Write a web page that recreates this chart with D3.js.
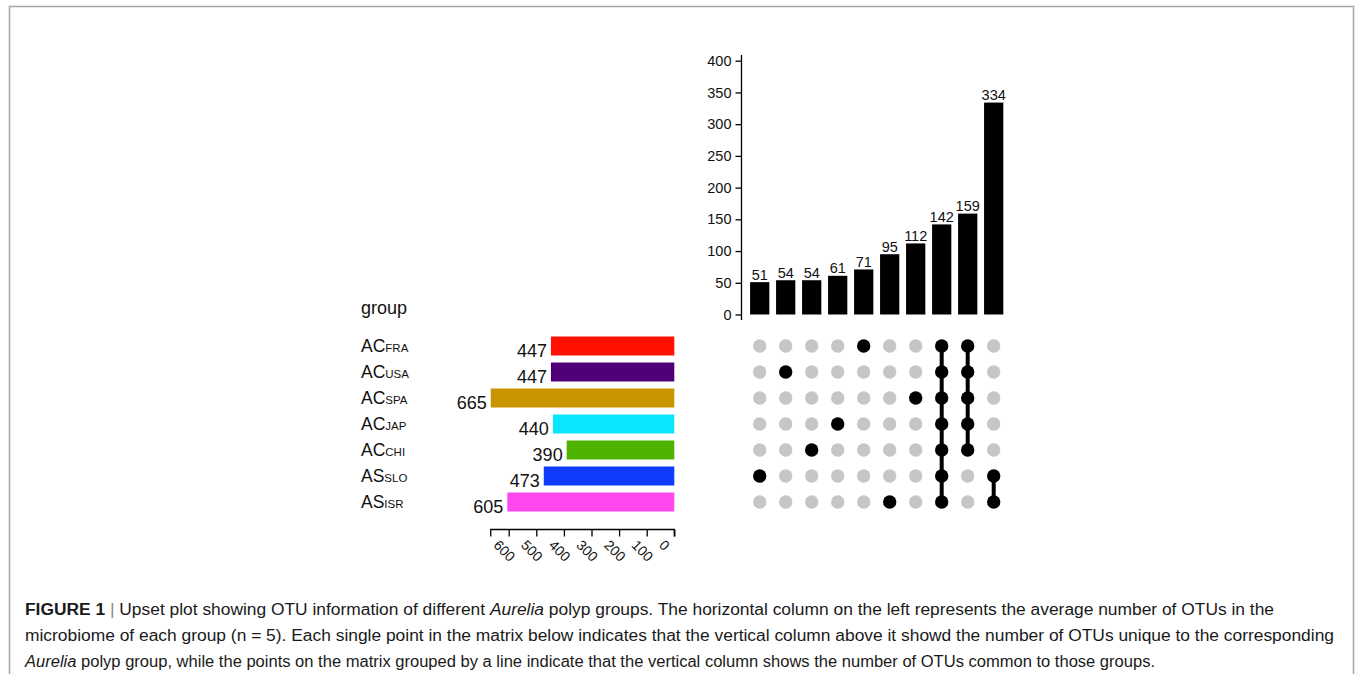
<!DOCTYPE html>
<html>
<head>
<meta charset="utf-8">
<script src="https://cdn.jsdelivr.net/npm/d3@7"></script>
<style>
  html, body { margin: 0; padding: 0; background: #fff; }
  svg { display: block; font-family: "Liberation Sans", Arial, Helvetica, sans-serif; }
</style>
</head>
<body>
<svg id="chart" width="1355" height="674"></svg>
<script>
// ---------------- data ----------------
const groupPrefix = ["AC", "AC", "AC", "AC", "AC", "AS", "AS"];
const groupNames  = ["FRA", "USA", "SPA", "JAP", "CHI", "SLO", "ISR"];
const setSizes    = [447, 447, 665, 440, 390, 473, 605];
const setColors   = ["#ff1000", "#4f0078", "#c99400", "#0ae6ff", "#4db200", "#0f3cff", "#ff46ef"];

const intersectionSizes = [51, 54, 54, 61, 71, 95, 112, 142, 159, 334];
const intersectionMembers = [
  ["SLO"], ["USA"], ["CHI"], ["JAP"], ["FRA"], ["ISR"], ["SPA"],
  ["FRA", "USA", "SPA", "JAP", "CHI", "SLO", "ISR"],
  ["FRA", "USA", "SPA", "JAP", "CHI"],
  ["SLO", "ISR"]
];
const yTicks = [0, 50, 100, 150, 200, 250, 300, 350, 400];
const setTicks = [0, 100, 200, 300, 400, 500, 600];

const captionLines = [
  [{t: "FIGURE 1", b: true}, {t: " | ", sep: true}, {t: "Upset plot showing OTU information of different "}, {t: "Aurelia", i: true}, {t: " polyp groups. The horizontal column on the left represents the average number of OTUs in the"}],
  [{t: "microbiome of each group (n = 5). Each single point in the matrix below indicates that the vertical column above it showd the number of OTUs unique to the corresponding"}],
  [{t: "Aurelia", i: true}, {t: " polyp group, while the points on the matrix grouped by a line indicate that the vertical column shows the number of OTUs common to those groups."}]
];
const captionWidths = [1249, 1309, 1130];

// ---------------- drawing ----------------
const svg = d3.select("#chart");

// frame
svg.append("path")
  .attr("d", "M9.5,680 L9.5,6.5 L1353.5,6.5 L1353.5,680")
  .attr("fill", "none").attr("stroke", "#a6a6a6").attr("stroke-width", 1.5);

const cols = d3.range(intersectionSizes.length);
const x = d3.scaleBand().domain(cols).range([746.7, 1006.7]).paddingInner(0.26).paddingOuter(0.13);
const y = d3.scaleLinear().domain([0, 400]).range([314.5, 60.7]);
const rows = d3.scaleBand().domain(groupNames).range([333, 515]);
const setX = d3.scaleLinear().domain([0, 100]).range([674.3, 646.7]);

// --- top intersection bars
const yAxis = d3.axisLeft(y).tickValues(yTicks).tickSize(6).tickPadding(4).tickSizeOuter(0);
const ya = svg.append("g").attr("transform", "translate(741.5,0)").call(yAxis);
ya.select(".domain").attr("d", "M0,55 V320").attr("stroke-width", 1.3);
ya.selectAll(".tick line").attr("stroke-width", 1.3);
ya.selectAll("text").attr("font-size", 14.5).attr("fill", "#111").attr("font-family", "Liberation Sans, Arial, sans-serif");

svg.append("g").selectAll("rect").data(intersectionSizes).join("rect")
  .attr("x", (d, i) => x(i)).attr("width", x.bandwidth())
  .attr("y", d => y(d)).attr("height", d => y(0) - y(d))
  .attr("fill", "#000");

svg.append("g").selectAll("text").data(intersectionSizes).join("text")
  .attr("x", (d, i) => x(i) + x.bandwidth() / 2)
  .attr("y", d => y(d) - 2.5)
  .attr("text-anchor", "middle").attr("font-size", 14.5).attr("fill", "#111")
  .text(d => d);

// --- matrix
const rc = n => rows(n) + rows.bandwidth() / 2;
const cx = i => x(i) + x.bandwidth() / 2;
const mg = svg.append("g");
cols.forEach(i => {
  groupNames.forEach(n => {
    const on = intersectionMembers[i].includes(n);
    mg.append("circle").attr("cx", cx(i)).attr("cy", rc(n)).attr("r", 6.7)
      .attr("fill", on ? "#000" : "#c6c6c6");
  });
  const m = intersectionMembers[i];
  if (m.length > 1) {
    const ys = m.map(rc);
    mg.append("line").attr("x1", cx(i)).attr("x2", cx(i))
      .attr("y1", d3.min(ys)).attr("y2", d3.max(ys))
      .attr("stroke", "#000").attr("stroke-width", 4);
  }
});

// --- set size bars
svg.append("g").selectAll("rect").data(setSizes).join("rect")
  .attr("x", d => setX(d)).attr("width", d => setX(0) - setX(d))
  .attr("y", (d, i) => rows(groupNames[i]) + 3.5).attr("height", rows.bandwidth() - 7)
  .attr("fill", (d, i) => setColors[i]);

svg.append("g").selectAll("text").data(setSizes).join("text")
  .attr("x", d => setX(d) - 4)
  .attr("y", (d, i) => rows(groupNames[i]) + rows.bandwidth() - 2.5)
  .attr("text-anchor", "end").attr("font-size", 18).attr("fill", "#111")
  .text(d => d);

const setAxis = d3.axisBottom(setX).tickValues(setTicks).tickSize(7).tickFormat("").tickSizeOuter(7);
const sa = svg.append("g").attr("transform", "translate(0,529.5)").call(setAxis);
sa.select(".domain").attr("d", `M${setX(665)},7V0H${setX(0)}V7`).attr("stroke-width", 1.3);
sa.selectAll(".tick line").attr("stroke-width", 1.3);
svg.append("g").selectAll("text").data(setTicks).join("text")
  .attr("transform", d => `translate(${setX(d) - 9},539) rotate(45)`)
  .attr("dy", "0.7em").attr("text-anchor", "start").attr("font-size", 14).attr("fill", "#111")
  .text(d => d);

// --- row labels
svg.append("text").attr("x", 361).attr("y", 314).attr("font-size", 18).attr("fill", "#111").text("group");
const rl = svg.append("g").selectAll("text").data(groupNames).join("text")
  .attr("x", 361).attr("y", n => rc(n) + 6).attr("fill", "#111");
rl.append("tspan").attr("font-size", 17.5).text((n, i) => groupPrefix[i]);
rl.append("tspan").attr("font-size", 11.5).text(n => n);

// --- caption
const cap = svg.append("g").attr("fill", "#1a1a1a");
captionLines.forEach((line, li) => {
  const t = cap.append("text").attr("x", 25).attr("y", 615 + li * 26).attr("font-size", 16);
  line.forEach(seg => {
    const s = t.append("tspan").text(seg.t);
    if (seg.b) s.attr("font-weight", "bold");
    if (seg.i) s.attr("font-style", "italic");
    if (seg.sep) s.attr("fill", "#888");
  });
  t.attr("textLength", captionWidths[li]).attr("lengthAdjust", "spacingAndGlyphs");
});
</script>
</body>
</html>
